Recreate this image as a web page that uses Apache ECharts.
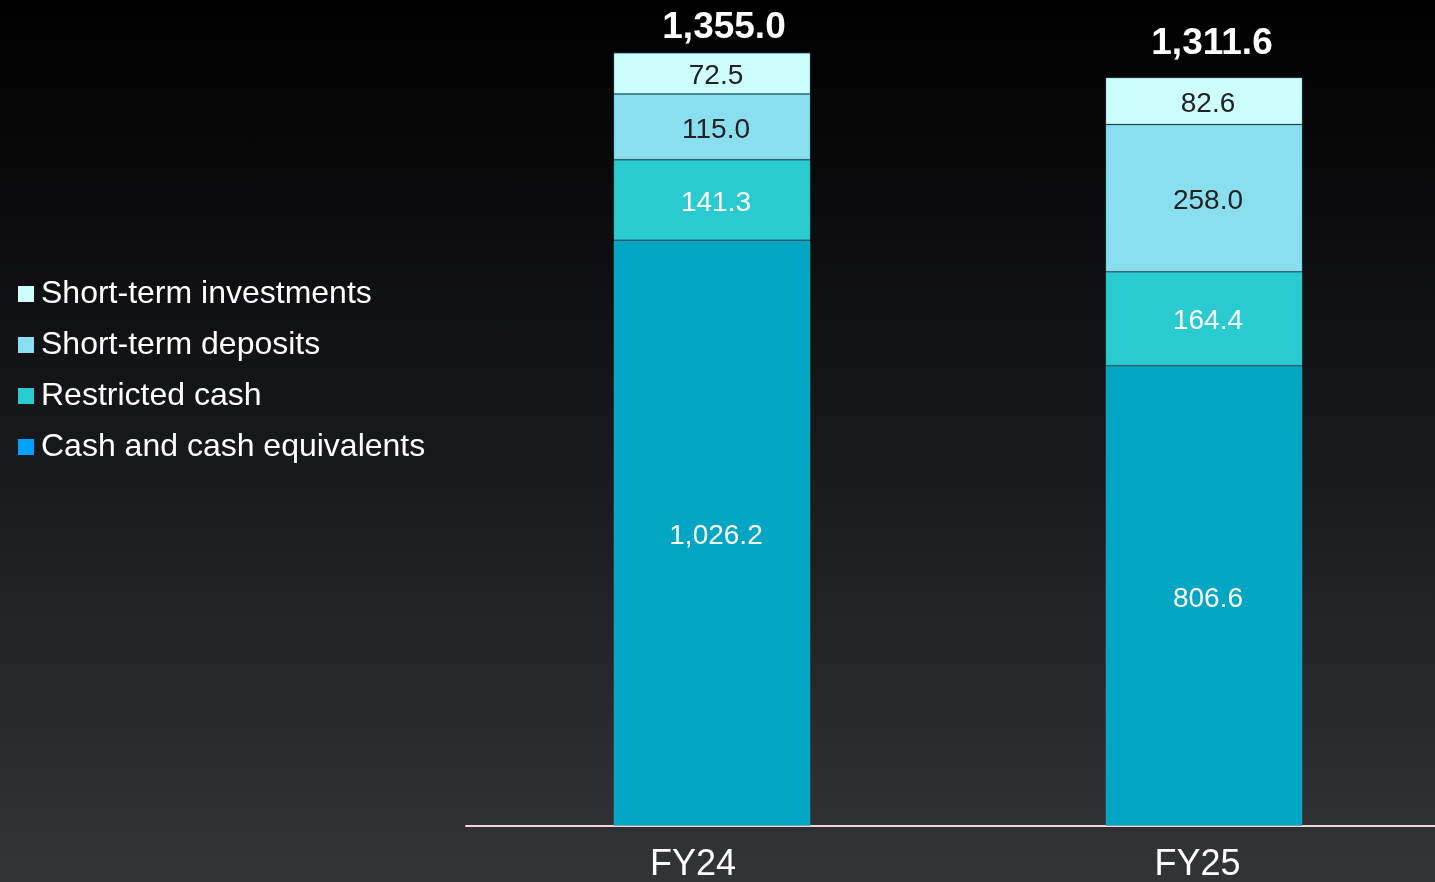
<!DOCTYPE html>
<html>
<head>
<meta charset="utf-8">
<script src="https://cdn.jsdelivr.net/npm/echarts@6/dist/echarts.min.js"></script>
<style>
html,body{margin:0;padding:0;width:1435px;height:882px;overflow:hidden;background:#000;}
#c{width:1435px;height:882px;background:linear-gradient(to bottom,#000000 0%,#17181b 50%,#333438 100%);}
</style>
</head>
<body>
<div id="c"></div>
<script>
const categories = ['FY24', 'FY25'];
const cashEquivalents = [1026.2, 806.6];
const restrictedCash = [141.3, 164.4];
const shortTermDeposits = [115.0, 258.0];
const shortTermInvestments = [72.5, 82.6];
const totals = [1355.0, 1311.6];

const totalLabelOffsets = [[12, 1], [8, -8]];

const fmt = v => Number(v).toLocaleString('en-US', {minimumFractionDigits: 1, maximumFractionDigits: 1});
const FONT = '"Liberation Sans", Arial, sans-serif';

const chart = echarts.init(document.getElementById('c'), null, {renderer: 'canvas'});

function seg(name, data, color, textColor) {
  return {
    name, type: 'bar', stack: 'total', data, barWidth: 197,
    itemStyle: {color, borderColor: 'rgba(70,160,175,0.45)', borderWidth: 1},
    label: {show: true, position: 'inside', offset: [4, 3], color: textColor, fontSize: 28, fontFamily: FONT,
      formatter: p => fmt(p.value)},
    emphasis: {disabled: true}
  };
}

chart.setOption({
  backgroundColor: 'transparent',
  animation: false,
  grid: {left: 466, top: 27, width: 984, height: 799, containLabel: false, outerBoundsMode: 'none'},
  legend: {
    orient: 'vertical', left: 13, top: 273, itemWidth: 16, itemHeight: 16, itemGap: 19,
    icon: 'rect',
    textStyle: {color: '#ffffff', fontSize: 32, fontFamily: FONT, padding: [0, 0, 0, 2]},
    data: [
      {name: 'Short-term investments', itemStyle: {color: '#ccfffe', borderWidth: 0}},
      {name: 'Short-term deposits', itemStyle: {color: '#89dff0', borderWidth: 0}},
      {name: 'Restricted cash', itemStyle: {color: '#29cbd0', borderWidth: 0}},
      {name: 'Cash and cash equivalents', itemStyle: {color: '#00a2ff', borderWidth: 0}}
    ],
    selectedMode: false
  },
  xAxis: {
    type: 'category',
    data: [
      {value: categories[0], textStyle: {padding: [0, 38, 0, 0]}},
      {value: categories[1], textStyle: {padding: [0, 13, 0, 0]}}
    ],
    axisLine: {show: true, lineStyle: {color: '#f3d5d5', width: 2}},
    axisTick: {show: false},
    axisLabel: {color: '#ffffff', fontSize: 36, fontFamily: FONT, margin: 21}
  },
  yAxis: {
    type: 'value', min: 0, max: 1400, show: false,
    splitLine: {show: false}
  },
  series: [
    seg('Cash and cash equivalents', cashEquivalents, '#00a6c4', '#ffffff'),
    seg('Restricted cash', restrictedCash, '#29cbd0', '#ffffff'),
    seg('Short-term deposits', shortTermDeposits, '#89dff0', '#222222'),
    seg('Short-term investments', shortTermInvestments, '#ccfffe', '#222222'),
    {
      name: 'Total', type: 'bar', stack: 'total', barWidth: 197,
      data: totals.map((_, i) => ({value: 0, label: {offset: totalLabelOffsets[i]}})),
      itemStyle: {color: 'transparent', borderWidth: 0},
      label: {show: true, position: 'top', distance: 7,
        color: '#ffffff', fontSize: 37, fontWeight: 'bold', fontFamily: FONT,
        formatter: p => fmt(totals[p.dataIndex])},
      emphasis: {disabled: true}
    }
  ]
});
</script>
</body>
</html>
